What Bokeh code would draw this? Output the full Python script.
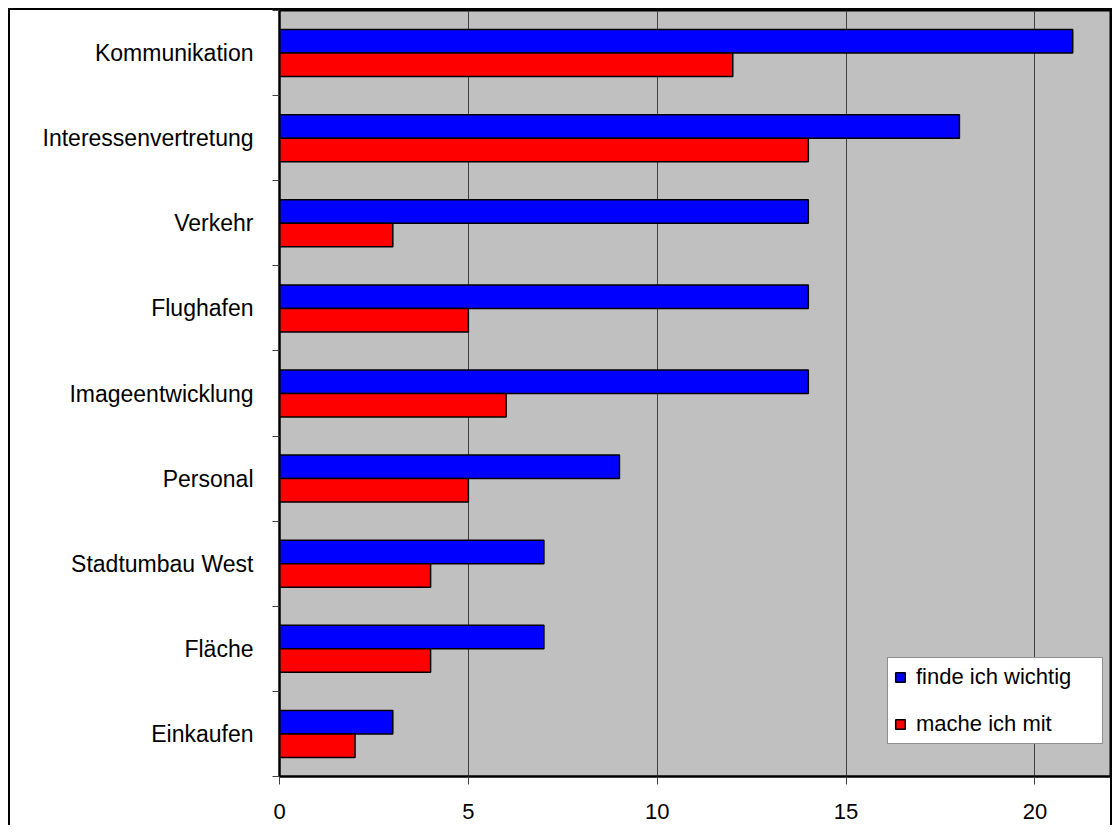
from bokeh.plotting import figure
from bokeh.models import Range1d, FixedTicker, ColumnDataSource, Legend, LegendItem
from bokeh.embed import file_html
from bokeh.resources import INLINE

categories = ["Kommunikation", "Interessenvertretung", "Verkehr", "Flughafen",
              "Imageentwicklung", "Personal", "Stadtumbau West", "Fläche", "Einkaufen"]
wichtig = [21, 18, 14, 14, 14, 9, 7, 7, 3]
mitmachen = [12, 14, 3, 5, 6, 5, 4, 4, 2]
series_names = ["finde ich wichtig", "mache ich mit"]
x_ticks = [0, 5, 10, 15, 20]

n = len(categories)
ypos = [n - 1 - i for i in range(n)]
bar_h = 0.276
off = 0.138

FONT = "Liberation Sans"

p = figure(width=1112, height=825, output_backend="svg", toolbar_location=None,
           x_range=Range1d(0, 22), y_range=Range1d(-0.5, n - 0.5),
           min_border_left=279, min_border_right=2, min_border_top=10, min_border_bottom=49)

# outer chart border drawn behind a transparent canvas border area
p.border_fill_color = None
p.styles = {
    "background": ("linear-gradient(#000,#000) 8px 8px / 2px 100% no-repeat, "
                   "linear-gradient(#000,#000) 8px 8px / 100% 2px no-repeat, "
                   "linear-gradient(#000,#000) right 0px top 8px / 2px 100% no-repeat, "
                   "#ffffff"),
}

p.background_fill_color = "#C0C0C0"
p.outline_line_color = "black"
p.outline_line_width = 2

src = ColumnDataSource(dict(cat=categories, y=ypos,
                            yb=[v + off for v in ypos], yr=[v - off for v in ypos],
                            w=wichtig, m=mitmachen))
rb = p.hbar(y="yb", right="w", left=0, height=bar_h, source=src,
            fill_color="#0000FF", line_color="black", line_width=1.5)
rr = p.hbar(y="yr", right="m", left=0, height=bar_h, source=src,
            fill_color="#FF0000", line_color="black", line_width=1.5)

# grid
p.ygrid.grid_line_color = None
p.xgrid.ticker = FixedTicker(ticks=x_ticks)
p.xgrid.grid_line_color = "#404040"
p.xgrid.grid_line_width = 1

# x axis
xa = p.xaxis[0]
xa.ticker = FixedTicker(ticks=x_ticks)
xa.axis_line_color = "black"
xa.axis_line_width = 2
xa.major_tick_in = 0
xa.major_tick_out = 8
xa.major_tick_line_color = "#404040"
xa.minor_tick_line_color = None
xa.major_label_standoff = 19
xa.major_label_text_font = FONT
xa.major_label_text_font_size = "22px"
xa.major_label_text_color = "black"

# y axis
ya = p.yaxis[0]
ya.ticker = FixedTicker(ticks=ypos, minor_ticks=[k - 0.5 for k in range(n + 1)])
ya.major_label_overrides = {v: c for v, c in zip(ypos, categories)}
ya.axis_line_color = "black"
ya.axis_line_width = 2
ya.major_tick_line_color = None
ya.major_tick_in = 0
ya.major_tick_out = 0
ya.minor_tick_in = 0
ya.minor_tick_out = 7
ya.minor_tick_line_color = "#404040"
ya.major_label_standoff = 19
ya.major_label_text_font = FONT
ya.major_label_text_font_size = "23px"
ya.major_label_text_color = "black"

legend = Legend(items=[LegendItem(label=series_names[0], renderers=[rb]),
                       LegendItem(label=series_names[1], renderers=[rr])],
                location=(608, 32))
legend.background_fill_color = "white"
legend.background_fill_alpha = 1
legend.border_line_color = "#202020"
legend.border_line_width = 1
legend.glyph_width = 12
legend.glyph_height = 12
legend.label_standoff = 10
legend.label_width = 180
legend.label_height = 26
legend.spacing = 21
legend.padding = 6
legend.margin = 0
legend.label_text_font = FONT
legend.label_text_font_size = "22px"
legend.label_text_color = "black"
p.add_layout(legend)

open("out.html", "w").write(file_html(p, INLINE))
